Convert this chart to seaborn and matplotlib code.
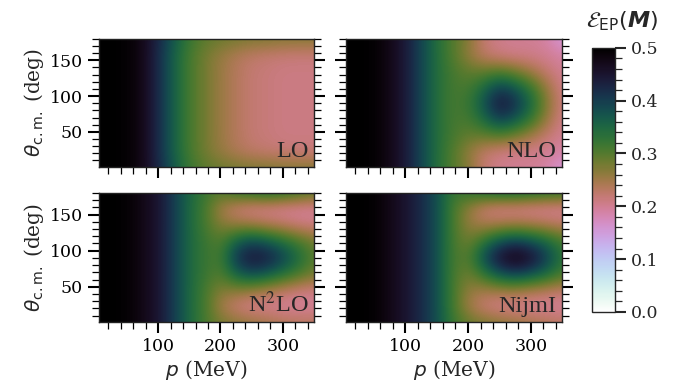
import numpy as np
import matplotlib
matplotlib.use("Agg")
import matplotlib.pyplot as plt
from matplotlib.ticker import MultipleLocator
import seaborn as sns

sns.set_style("ticks")
plt.rcParams['font.family'] = ['DejaVu Serif']
plt.rcParams['mathtext.fontset'] = 'dejavusans'

# grid of momenta (MeV) and angles (deg) where the values were read
p_grid = [0, 25, 50, 75, 100, 125, 150, 175, 200, 225, 250, 275, 300, 325, 350]
theta_grid = [0, 22.5, 45, 67.5, 90, 112.5, 135, 157.5, 180]

# rows: theta from 0 to 180, columns: p from 0 to 350
eps_LO = [
    [.5, .5, .495, .475, .425, .37, .32, .295, .285, .28, .275, .275, .27, .27, .27],
    [.5, .5, .495, .475, .42, .36, .31, .28, .258, .24, .228, .222, .218, .216, .216],
    [.5, .5, .495, .475, .42, .36, .31, .28, .255, .235, .22, .215, .21, .21, .21],
    [.5, .5, .495, .475, .42, .36, .31, .28, .255, .235, .22, .215, .21, .21, .21],
    [.5, .5, .495, .475, .42, .36, .31, .28, .255, .235, .22, .215, .21, .21, .21],
    [.5, .5, .495, .475, .42, .36, .31, .28, .255, .235, .22, .215, .21, .21, .21],
    [.5, .5, .495, .475, .42, .36, .31, .28, .255, .235, .22, .215, .21, .21, .21],
    [.5, .5, .495, .475, .42, .36, .31, .28, .258, .24, .228, .222, .218, .216, .216],
    [.5, .5, .495, .475, .425, .37, .32, .295, .285, .28, .275, .275, .27, .27, .27],
]
eps_NLO = [
    [.5, .5, .495, .475, .44, .39, .34, .30, .27, .22, .205, .20, .20, .19, .15],
    [.5, .5, .495, .475, .44, .39, .34, .30, .26, .225, .21, .205, .205, .20, .19],
    [.5, .5, .495, .475, .44, .39, .34, .31, .29, .29, .30, .28, .25, .22, .20],
    [.5, .5, .495, .475, .44, .39, .34, .31, .31, .35, .40, .37, .32, .255, .205],
    [.5, .5, .495, .475, .44, .39, .34, .31, .32, .38, .45, .415, .35, .27, .21],
    [.5, .5, .495, .475, .44, .39, .34, .31, .31, .35, .40, .37, .32, .255, .205],
    [.5, .5, .495, .475, .44, .39, .34, .31, .29, .29, .30, .28, .25, .22, .20],
    [.5, .5, .495, .475, .44, .39, .34, .30, .26, .225, .21, .205, .205, .20, .19],
    [.5, .5, .495, .475, .44, .39, .34, .30, .27, .22, .205, .20, .20, .19, .15],
]
eps_N2LO = [
    [.5, .5, .495, .475, .45, .40, .35, .31, .28, .27, .26, .25, .24, .235, .235],
    [.5, .5, .495, .475, .45, .40, .35, .31, .25, .215, .20, .20, .195, .195, .195],
    [.5, .5, .495, .475, .45, .40, .35, .31, .27, .27, .26, .245, .23, .215, .21],
    [.5, .5, .495, .475, .45, .40, .35, .32, .30, .36, .39, .37, .34, .31, .28],
    [.5, .5, .495, .475, .45, .40, .35, .32, .31, .41, .45, .44, .40, .35, .30],
    [.5, .5, .495, .475, .45, .40, .35, .32, .30, .36, .39, .37, .34, .31, .28],
    [.5, .5, .495, .475, .45, .40, .35, .31, .27, .26, .255, .24, .23, .215, .21],
    [.5, .5, .495, .475, .45, .40, .35, .31, .25, .215, .20, .20, .195, .195, .195],
    [.5, .5, .495, .475, .45, .40, .35, .32, .30, .33, .34, .35, .34, .32, .30],
]
eps_NijmI = [
    [.5, .5, .495, .475, .45, .42, .38, .32, .29, .28, .27, .26, .25, .24, .23],
    [.5, .5, .495, .475, .45, .42, .38, .31, .25, .215, .20, .20, .195, .195, .195],
    [.5, .5, .495, .475, .45, .42, .38, .31, .26, .25, .255, .255, .245, .235, .225],
    [.5, .5, .495, .475, .45, .42, .38, .31, .28, .33, .38, .40, .38, .35, .31],
    [.5, .5, .495, .475, .45, .42, .38, .31, .30, .39, .46, .49, .46, .40, .33],
    [.5, .5, .495, .475, .45, .42, .38, .31, .28, .33, .38, .40, .38, .35, .31],
    [.5, .5, .495, .475, .45, .42, .38, .31, .26, .245, .25, .255, .25, .24, .23],
    [.5, .5, .495, .475, .45, .42, .38, .31, .26, .215, .20, .20, .195, .195, .195],
    [.5, .5, .495, .475, .45, .42, .38, .32, .33, .35, .36, .36, .35, .34, .33],
]
panel_names = ["LO", "NLO", r"N$^2$LO", "NijmI"]
panel_data = [eps_LO, eps_NLO, eps_N2LO, eps_NijmI]

cmap = sns.color_palette("cubehelix_r", as_cmap=True)

fig = plt.figure(figsize=(6.78, 3.89), dpi=100)
rects = [
    [0.146, 0.571, 0.317, 0.329],
    [0.510, 0.571, 0.319, 0.329],
    [0.146, 0.172, 0.317, 0.332],
    [0.510, 0.172, 0.319, 0.332],
]

dp = p_grid[1] - p_grid[0]
dt = theta_grid[1] - theta_grid[0]
extent = [p_grid[0] - dp / 2, p_grid[-1] + dp / 2,
          theta_grid[0] - dt / 2, theta_grid[-1] + dt / 2]

for i, (rect, name, vals) in enumerate(zip(rects, panel_names, panel_data)):
    ax = fig.add_axes(rect)
    im = ax.imshow(np.array(vals), origin='lower', extent=extent, aspect='auto',
                   cmap=cmap, vmin=0, vmax=0.5, interpolation='bicubic',
                   interpolation_stage='data')
    ax.set_xlim(5, 350)
    ax.set_ylim(1, 180)
    ax.xaxis.set_major_locator(MultipleLocator(100))
    ax.xaxis.set_minor_locator(MultipleLocator(20))
    ax.yaxis.set_major_locator(MultipleLocator(50))
    ax.yaxis.set_minor_locator(MultipleLocator(10))
    ax.tick_params(which='both', direction='out', right=True, top=False,
                   labelsize=12.5, colors='black')
    ax.tick_params(which='major', length=8, width=1.5)
    ax.tick_params(which='minor', length=5, width=0.9)
    for s in ax.spines.values():
        s.set_linewidth(1.0)
        s.set_color('#222222')
    if i < 2:
        ax.tick_params(labelbottom=False)
    else:
        ax.set_xlabel(r"$p$ (MeV)", fontsize=14.5, labelpad=2)
    if i % 2 == 1:
        ax.tick_params(labelleft=False)
    else:
        ax.set_ylabel(r"$\theta_{\rm c.m.}$ (deg)", fontsize=14.5, labelpad=3)
    ax.text(0.975, 0.04, name, transform=ax.transAxes, ha='right', va='bottom',
            fontsize=17.5, family=['Liberation Serif', 'DejaVu Serif'],
            math_fontfamily='stix')

cax = fig.add_axes([0.873, 0.198, 0.034, 0.679])
cb = fig.colorbar(im, cax=cax)
cb.outline.set_linewidth(1.0)
cax.yaxis.set_major_locator(MultipleLocator(0.1))
cax.yaxis.set_minor_locator(MultipleLocator(0.02))
cax.tick_params(which='both', direction='out', labelsize=12.5)
cax.tick_params(which='major', length=8, width=1.5)
cax.tick_params(which='minor', length=5, width=0.9)
fig.text(0.918, 0.946, r"$\mathcal{E}_{\rm EP}(\mathbfit{M})$", fontsize=16,
         ha='center', va='center')

fig.savefig("out.png", dpi=100)
